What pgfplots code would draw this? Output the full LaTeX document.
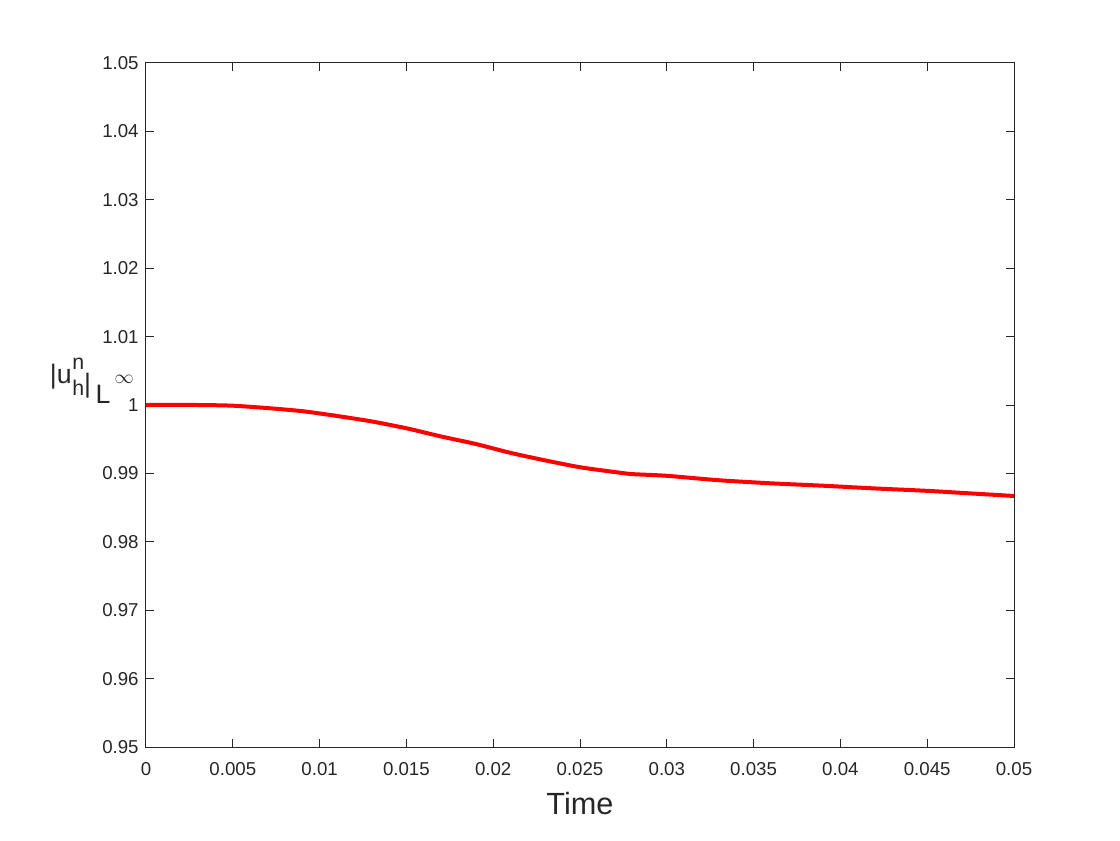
\documentclass[border=0pt]{standalone}
\usepackage{fontspec}
\setmainfont{Liberation Sans}
\usepackage{pgfplots}
\pgfplotsset{compat=1.18}
\definecolor{axgray}{RGB}{38,38,38}
\newcommand{\bigf}{\fontsize{20}{22}\selectfont}
\newcommand{\smallf}{\fontsize{16}{18}\selectfont}
\begin{document}
\begin{tikzpicture}
\useasboundingbox (-109.5pt,-69.75pt) rectangle (730.5pt,560.25pt);
\begin{axis}[
  at={(0,0)}, anchor=south west,
  scale only axis,
  width=651pt, height=513pt,
  xmin=0, xmax=0.05, ymin=0.95, ymax=1.05,
  xtick={0,0.005,0.01,0.015,0.02,0.025,0.03,0.035,0.04,0.045,0.05},
  xticklabels={0,0.005,0.01,0.015,0.02,0.025,0.03,0.035,0.04,0.045,0.05},
  ytick={0.95,0.96,0.97,0.98,0.99,1,1.01,1.02,1.03,1.04,1.05},
  yticklabels={0.95,0.96,0.97,0.98,0.99,1,1.01,1.02,1.03,1.04,1.05},
  scaled x ticks=false, scaled y ticks=false,
  tick align=inside, tickpos=both,
  major tick length=6pt,
  axis line style={axgray, line width=0.75pt},
  every tick/.style={axgray, line width=0.75pt},
  tick label style={font=\fontsize{14}{16}\selectfont, text=axgray},
  xticklabel style={yshift=-8pt},
  yticklabel style={xshift=-2pt},
  xlabel={Time},
  xlabel style={font=\fontsize{23}{26}\selectfont, text=axgray, yshift=-6pt},
  ylabel={\bigf |u\hspace{0.5pt}\rlap{\raisebox{10pt}{\smallf n}}\raisebox{-9pt}{\smallf h}\raisebox{-7pt}{|}\hspace{3.5pt}\raisebox{-15pt}{L\hspace{3pt}\raisebox{15pt}{\fontsize{15}{17}\selectfont$\infty$}}},
  ylabel style={text=axgray, rotate=-90, inner sep=0pt,
    at={(axis description cs:-0.0138,0.5354)}, anchor=east},
]
\addplot[red, line width=3pt, smooth, tension=0.4] coordinates {
(0,1.0000)
(0.003,1.0000)
(0.005,0.9999)
(0.007,0.99955)
(0.009,0.9991)
(0.011,0.9984)
(0.013,0.9976)
(0.015,0.9966)
(0.017,0.9954)
(0.019,0.9943)
(0.021,0.9930)
(0.023,0.9919)
(0.025,0.9909)
(0.027,0.9902)
(0.028,0.9899)
(0.030,0.98965)
(0.033,0.9890)
(0.036,0.98855)
(0.039,0.9882)
(0.042,0.9878)
(0.045,0.98745)
(0.048,0.9870)
(0.050,0.9867)
};
\end{axis}
\end{tikzpicture}
\end{document}
